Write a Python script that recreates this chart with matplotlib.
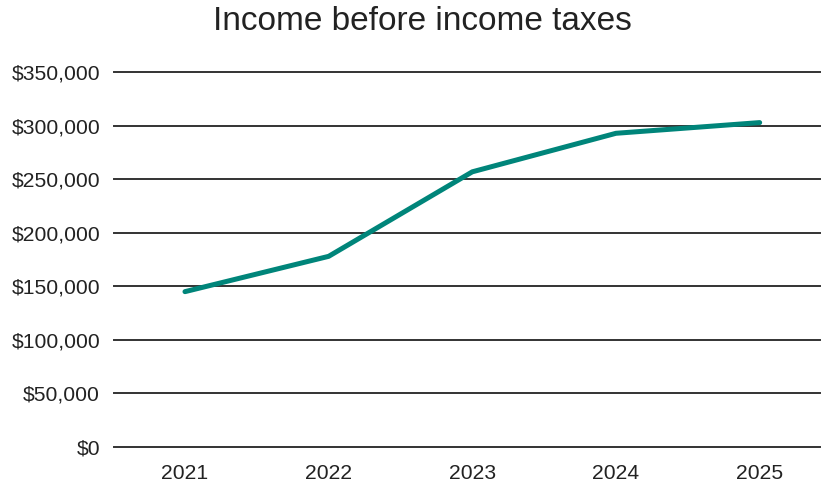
import matplotlib
matplotlib.use("Agg")
import matplotlib.pyplot as plt
from matplotlib.ticker import FuncFormatter

years = ["2021", "2022", "2023", "2024", "2025"]
income = [145000, 178000, 257000, 293000, 303000]
yticks = [0, 50000, 100000, 150000, 200000, 250000, 300000, 350000]

plt.rcParams["font.family"] = ["Liberation Sans", "DejaVu Sans"]

W, H = 821, 486
fig = plt.figure(figsize=(W / 100, H / 100), dpi=100)
ax = fig.add_axes([114 / W, (H - 446.8) / H, (820 - 114) / W, (446.8 - 72.3) / H])

x = list(range(len(years)))
ax.plot(x, income, color="#00857a", linewidth=3.6, solid_capstyle="round", zorder=3)

ax.set_ylim(0, 350000)
ax.set_xlim(-0.494, 4.42)
ax.set_yticks(yticks)
ax.yaxis.set_major_formatter(FuncFormatter(lambda v, p: f"${v:,.0f}"))
ax.set_xticks(x)
ax.set_xticklabels(years)
ax.grid(axis="y", color="#333333", linewidth=1.4)
for gl in ax.get_ygridlines():
    gl.set_clip_on(False)
ax.set_axisbelow(True)
for s in ax.spines.values():
    s.set_visible(False)
ax.tick_params(length=0, labelsize=15.2, colors="#222222")
ax.tick_params(axis="y", pad=10)
ax.tick_params(axis="x", pad=12.5)

fig.text(422 / W, 1 - 21.5 / H, "Income before income taxes", ha="center", va="center",
         fontsize=24, color="#222222")

fig.savefig("out.png", dpi=100)
